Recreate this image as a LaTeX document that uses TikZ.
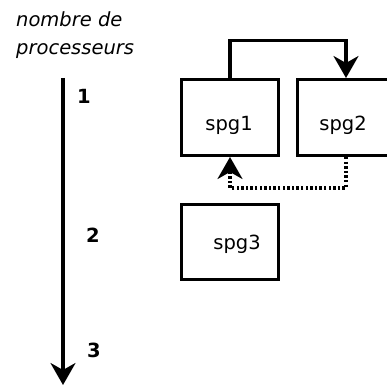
\documentclass[tikz,border=0pt]{standalone}
\usepackage{fontspec}
\setmainfont{DejaVu Sans}
\usetikzlibrary{arrows.meta}

\tikzset{
  box/.style={draw, line width=3pt, minimum width=97pt, minimum height=76pt, inner sep=0pt},
  lbl/.style={anchor=base, inner sep=0pt, font=\fontsize{19.5}{23}\selectfont},
  num/.style={anchor=base, inner sep=0pt, font=\fontsize{19.5}{23}\selectfont\bfseries},
  bigtip/.style={-{Stealth[length=22pt, width=25pt, inset=7pt]}},
}

\begin{document}
\begin{tikzpicture}[x=1pt,y=1pt,yscale=-1]
\useasboundingbox (0,0) rectangle (387,385);

% Text Node
\draw (16,27) node [anchor=base west][inner sep=0pt][font=\fontsize{19.5}{23}\selectfont\itshape] (head1) {nombre de};
% Text Node
\draw (16,55) node [anchor=base west][inner sep=0pt][font=\fontsize{19.5}{23}\selectfont\itshape] (head2) {processeurs};

% Axis
\coordinate (axtop) at (63,78);
\coordinate (axbot) at (63,385);
\draw [line width=3.2pt, bigtip] (axtop) -- (axbot);
% Text Node
\draw (84,103) node [num] (n1) {1};
% Text Node
\draw (93,242) node [num] (n2) {2};
% Text Node
\draw (94,357) node [num] (n3) {3};

% Boxes
\draw (230,117.5) node [box] (spg1) {};
\draw (346,117.5) node [box] (spg2) {};
\draw (230,242) node [box, minimum height=75pt] (spg3) {};
% Text Node
\draw (229,130) node [lbl] (t1) {spg1};
% Text Node
\draw (343,130) node [lbl] (t2) {spg2};
% Text Node
\draw (237,249) node [lbl] (t3) {spg3};

% Connection
\draw [line width=3.2pt, bigtip] (spg1.north) -- ++(0,-37.5) -| (spg2.north);
% Connection
\draw [line width=3.2pt, dash pattern={on 2.4pt off 2.2pt}, bigtip] (spg2.south) -- ++(0,31) -| (spg1.south);

\end{tikzpicture}
\end{document}
